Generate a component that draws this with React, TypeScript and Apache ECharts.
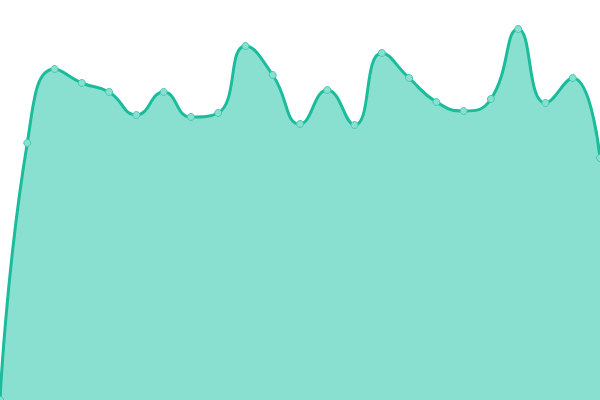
import React, { useEffect, useRef } from 'react';
import * as echarts from 'echarts';

const categories = [
  'P1', 'P2', 'P3', 'P4', 'P5', 'P6', 'P7', 'P8', 'P9', 'P10', 'P11', 'P12',
  'P13', 'P14', 'P15', 'P16', 'P17', 'P18', 'P19', 'P20', 'P21', 'P22', 'P23'
];

const values = [
  0, 257, 331, 317, 308, 285, 308, 283, 287, 354, 325, 276,
  310, 275, 347, 322, 298, 289, 301, 371, 297, 322, 242
];

const yMax = 400;

const App: React.FC = () => {
  const chartRef = useRef<HTMLDivElement>(null);

  useEffect(() => {
    if (!chartRef.current) return;
    const chart = echarts.init(chartRef.current, undefined, { renderer: 'svg' });

    chart.setOption({
      animation: false,
      grid: { left: 0, right: 0, top: 0, bottom: 0 },
      xAxis: {
        type: 'category',
        data: categories,
        boundaryGap: false,
        show: false
      },
      yAxis: {
        type: 'value',
        min: 0,
        max: yMax,
        show: false
      },
      series: [{
        type: 'line',
        data: values,
        smooth: true,
        symbol: 'circle',
        symbolSize: 7,
        lineStyle: { color: '#1abc9c', width: 3 },
        itemStyle: { color: '#8ae0d0', borderColor: '#48c9b0', borderWidth: 1 },
        areaStyle: { color: '#8ae0d0', opacity: 1 }
      }]
    });

    return () => chart.dispose();
  }, []);

  return (
    <div
      ref={chartRef}
      style={{ position: 'absolute', left: 0, top: 0, width: 600, height: 400 }}
    />
  );
};

export default App;
